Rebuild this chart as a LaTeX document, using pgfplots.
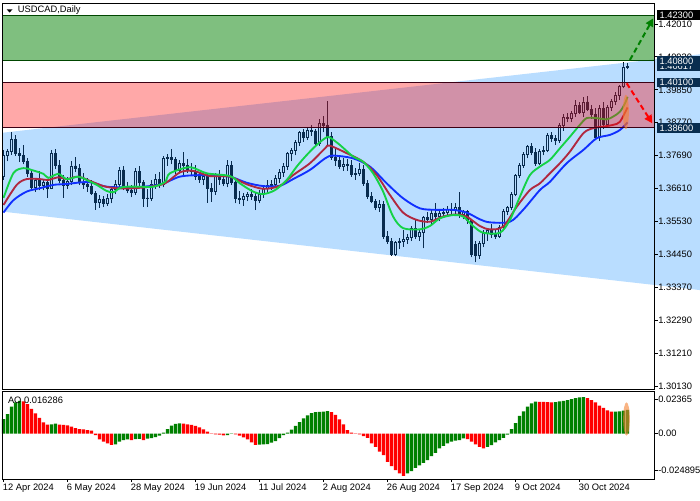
\documentclass[border=0pt]{standalone}
\usepackage{pgfplots}
\pgfplotsset{compat=1.18}
\usepackage{pgfplotstable}
\usepackage{fontspec}
\setmainfont{Liberation Sans}
\usetikzlibrary{arrows.meta}
\definecolor{chan}{RGB}{30,144,255}
\definecolor{zred}{RGB}{255,0,0}
\definecolor{zgreen}{RGB}{0,128,0}
\definecolor{zgline}{RGB}{0,70,0}
\definecolor{zrline}{RGB}{60,0,20}
\definecolor{maG}{RGB}{20,210,70}
\definecolor{maR}{RGB}{176,40,64}
\definecolor{maB}{RGB}{16,48,255}
\definecolor{aoG}{RGB}{0,128,0}
\definecolor{aoR}{RGB}{255,0,0}
\definecolor{navy}{RGB}{9,45,79}
\definecolor{ellip}{RGB}{245,130,50}
\newcommand{\lab}{\fontsize{7}{8}\selectfont}
\pgfplotstableread{
i o h l c
0 1.3700 1.3786 1.3690 1.3768
1 1.3768 1.3792 1.3750 1.3782
2 1.3782 1.3846 1.3772 1.3822
3 1.3822 1.3838 1.3768 1.3775
4 1.3775 1.3795 1.3748 1.3768
5 1.3768 1.3805 1.3740 1.3750
6 1.3750 1.3762 1.3700 1.3712
7 1.3712 1.3722 1.3658 1.3665
8 1.3665 1.3696 1.3650 1.3686
9 1.3686 1.3720 1.3655 1.3672
10 1.3672 1.3692 1.3655 1.3680
11 1.3680 1.3688 1.3630 1.3662
12 1.3662 1.3787 1.3658 1.3776
13 1.3776 1.3790 1.3725 1.3738
14 1.3738 1.3755 1.3680 1.3688
15 1.3688 1.3705 1.3630 1.3672
16 1.3672 1.3698 1.3660 1.3685
17 1.3685 1.3750 1.3672 1.3735
18 1.3735 1.3765 1.3715 1.3728
19 1.3728 1.3740 1.3672 1.3680
20 1.3680 1.3712 1.3660 1.3675
21 1.3675 1.3695 1.3650 1.3668
22 1.3668 1.3688 1.3640 1.3645
23 1.3645 1.3652 1.3592 1.3615
24 1.3615 1.3640 1.3598 1.3625
25 1.3625 1.3638 1.3600 1.3612
26 1.3612 1.3642 1.3605 1.3630
27 1.3630 1.3668 1.3612 1.3658
28 1.3658 1.3690 1.3642 1.3676
29 1.3676 1.3733 1.3665 1.3722
30 1.3722 1.3735 1.3655 1.3668
31 1.3668 1.3682 1.3645 1.3655
32 1.3655 1.3672 1.3632 1.3648
33 1.3648 1.3730 1.3640 1.3718
34 1.3718 1.3735 1.3662 1.3680
35 1.3680 1.3690 1.3602 1.3630
36 1.3630 1.3658 1.3600 1.3628
37 1.3628 1.3690 1.3620 1.3676
38 1.3676 1.3708 1.3660 1.3692
39 1.3692 1.3715 1.3662 1.3675
40 1.3675 1.3768 1.3665 1.3760
41 1.3760 1.3775 1.3735 1.3762
42 1.3762 1.3790 1.3740 1.3756
43 1.3756 1.3765 1.3708 1.3722
44 1.3722 1.3755 1.3712 1.3744
45 1.3744 1.3782 1.3705 1.3738
46 1.3738 1.3758 1.3712 1.3722
47 1.3722 1.3745 1.3702 1.3716
48 1.3716 1.3738 1.3690 1.3700
49 1.3700 1.3715 1.3680 1.3690
50 1.3690 1.3712 1.3672 1.3702
51 1.3702 1.3712 1.3615 1.3660
52 1.3660 1.3680 1.3618 1.3650
53 1.3650 1.3712 1.3640 1.3705
54 1.3705 1.3722 1.3672 1.3690
55 1.3690 1.3702 1.3668 1.3678
56 1.3678 1.3755 1.3665 1.3738
57 1.3738 1.3752 1.3672 1.3680
58 1.3680 1.3688 1.3612 1.3628
59 1.3628 1.3652 1.3610 1.3625
60 1.3625 1.3645 1.3605 1.3635
61 1.3635 1.3650 1.3620 1.3642
62 1.3642 1.3660 1.3625 1.3635
63 1.3635 1.3648 1.3590 1.3622
64 1.3622 1.3655 1.3612 1.3640
65 1.3640 1.3668 1.3630 1.3660
66 1.3660 1.3688 1.3645 1.3672
67 1.3672 1.3690 1.3655 1.3676
68 1.3676 1.3705 1.3662 1.3695
69 1.3695 1.3725 1.3680 1.3715
70 1.3715 1.3745 1.3700 1.3735
71 1.3735 1.3782 1.3722 1.3775
72 1.3775 1.3795 1.3750 1.3785
73 1.3785 1.3820 1.3770 1.3812
74 1.3812 1.3850 1.3800 1.3845
75 1.3845 1.3858 1.3815 1.3830
76 1.3830 1.3862 1.3820 1.3852
77 1.3852 1.3870 1.3835 1.3850
78 1.3850 1.3858 1.3798 1.3808
79 1.3808 1.3890 1.3800 1.3875
80 1.3875 1.3898 1.3845 1.3868
81 1.3868 1.3948 1.3800 1.3832
82 1.3832 1.3845 1.3755 1.3762
83 1.3762 1.3792 1.3735 1.3752
84 1.3752 1.3770 1.3725 1.3735
85 1.3735 1.3760 1.3720 1.3740
86 1.3740 1.3758 1.3720 1.3738
87 1.3738 1.3755 1.3700 1.3708
88 1.3708 1.3728 1.3690 1.3712
89 1.3712 1.3745 1.3702 1.3725
90 1.3725 1.3738 1.3670 1.3678
91 1.3678 1.3688 1.3628 1.3636
92 1.3636 1.3650 1.3612 1.3620
93 1.3620 1.3628 1.3590 1.3598
94 1.3598 1.3625 1.3585 1.3610
95 1.3610 1.3620 1.3495 1.3505
96 1.3505 1.3520 1.3480 1.3488
97 1.3488 1.3498 1.3440 1.3445
98 1.3445 1.3490 1.3438 1.3483
99 1.3483 1.3500 1.3462 1.3488
100 1.3488 1.3525 1.3470 1.3495
101 1.3495 1.3512 1.3480 1.3500
102 1.3500 1.3538 1.3488 1.3530
103 1.3530 1.3560 1.3495 1.3505
104 1.3505 1.3525 1.3490 1.3518
105 1.3518 1.3572 1.3465 1.3565
106 1.3565 1.3585 1.3548 1.3560
107 1.3560 1.3590 1.3545 1.3580
108 1.3580 1.3612 1.3555 1.3570
109 1.3570 1.3595 1.3555 1.3580
110 1.3580 1.3598 1.3565 1.3582
111 1.3582 1.3605 1.3570 1.3592
112 1.3592 1.3612 1.3575 1.3588
113 1.3588 1.3612 1.3572 1.3598
114 1.3598 1.3650 1.3565 1.3575
115 1.3575 1.3592 1.3560 1.3585
116 1.3585 1.3590 1.3545 1.3555
117 1.3555 1.3562 1.3435 1.3445
118 1.3478 1.3490 1.3419 1.3440
119 1.3440 1.3490 1.3430 1.3482
120 1.3482 1.3525 1.3468 1.3515
121 1.3515 1.3530 1.3490 1.3522
122 1.3522 1.3545 1.3500 1.3510
123 1.3510 1.3528 1.3495 1.3505
124 1.3505 1.3540 1.3500 1.3532
125 1.3532 1.3595 1.3525 1.3585
126 1.3585 1.3605 1.3575 1.3598
127 1.3598 1.3650 1.3590 1.3640
128 1.3640 1.3710 1.3635 1.3705
129 1.3705 1.3745 1.3695 1.3738
130 1.3738 1.3780 1.3730 1.3772
131 1.3772 1.3805 1.3760 1.3798
132 1.3798 1.3812 1.3770 1.3780
133 1.3780 1.3795 1.3735 1.3745
134 1.3745 1.3790 1.3738 1.3782
135 1.3782 1.3800 1.3770 1.3785
136 1.3785 1.3842 1.3780 1.3835
137 1.3835 1.3848 1.3815 1.3825
138 1.3825 1.3838 1.3805 1.3818
139 1.3818 1.3875 1.3812 1.3868
140 1.3868 1.3905 1.3850 1.3895
141 1.3895 1.3908 1.3878 1.3892
142 1.3892 1.3915 1.3880 1.3908
143 1.3908 1.3950 1.3895 1.3935
144 1.3935 1.3945 1.3905 1.3912
145 1.3912 1.3960 1.3895 1.3945
146 1.3945 1.3965 1.3915 1.3922
147 1.3922 1.3935 1.3890 1.3905
148 1.3905 1.3925 1.3822 1.3830
149 1.3830 1.3935 1.3818 1.3925
150 1.3925 1.3945 1.3858 1.3870
151 1.3870 1.3935 1.3862 1.3928
152 1.3928 1.3955 1.3915 1.3948
153 1.3948 1.3978 1.3935 1.3968
154 1.3968 1.4002 1.3950 1.3995
155 1.3995 1.4075 1.3990 1.4060
156 1.4060 1.4072 1.4052 1.4062
}\candles
\begin{document}
\begin{tikzpicture}
\path[use as bounding box] (0,0) rectangle (525pt,375pt);
\begin{axis}[
  at={(1.875pt,83.25pt)}, anchor=south west,
  scale only axis, width=489pt, height=289.5pt,
  xmin=-0.25, xmax=162.75, ymin=1.30031, ymax=1.42699,
  clip=false, axis on top,
  scaled y ticks=false, scaled x ticks=false,
  xtick=\empty,
  ytick={1.3013,1.3121,1.3229,1.3337,1.3445,1.3553,1.3661,1.3769,1.3877,1.3985,1.4093,1.4201},
  yticklabels={1.30130,1.31210,1.32290,1.33370,1.34450,1.35530,1.36610,1.37690,1.38770,1.39850,1.40930,1.42010},
  ytick pos=right, yticklabel pos=right,
  tick align=outside, major tick length=2.25pt,
  tick style={black, line width=0.6pt},
  axis line style={line width=0.7pt},
  yticklabel style={font=\lab, anchor=west, inner sep=0pt, xshift=0.4pt},
]
% candles (drawn black, tinted by overlays)
\pgfplotsforeachungrouped \k in {0,...,156}{%
  \pgfplotstablegetelem{\k}{i}\of\candles \let\vI\pgfplotsretval
  \pgfplotstablegetelem{\k}{o}\of\candles \let\vO\pgfplotsretval
  \pgfplotstablegetelem{\k}{h}\of\candles \let\vH\pgfplotsretval
  \pgfplotstablegetelem{\k}{l}\of\candles \let\vL\pgfplotsretval
  \pgfplotstablegetelem{\k}{c}\of\candles \let\vC\pgfplotsretval
  \pgfmathsetmacro\xa{\vI-0.3}%
  \pgfmathsetmacro\xb{\vI+0.3}%
  \pgfmathtruncatemacro\isbull{(\vC>=\vO)}%
  \ifnum\isbull=1 \def\cf{white}\else\def\cf{black}\fi
  \edef\doit{%
    \noexpand\addplot[black, line width=0.75pt, forget plot] coordinates {(\vI,\vL) (\vI,\vH)};
    \noexpand\addplot[draw=black, fill=\cf, line width=0.65pt, forget plot] coordinates {(\xa,\vO) (\xb,\vO) (\xb,\vC) (\xa,\vC) (\xa,\vO)};
  }\doit
}
% channel
\addplot[fill=chan, fill opacity=0.31, draw=none, forget plot] coordinates {(-0.25,1.38441) (174.125,1.41016) (174.125,1.33277) (-0.25,1.35852)};
% moving averages
\addplot[smooth, maB, line width=1.4pt] coordinates {(0,1.3582) (2.5,1.3623) (5.8,1.3651) (9.1,1.3662) (12.5,1.3673) (15.8,1.3676) (20,1.3682) (22.5,1.3680) (25.8,1.3667) (32.5,1.3665) (39.1,1.3674) (44.1,1.3700) (49.1,1.3705) (52,1.3703) (56.6,1.3700) (60.8,1.3680) (65,1.3669) (69.1,1.3670) (72.4,1.3692) (76.6,1.3722) (80.4,1.3760) (82.4,1.3769) (87.4,1.3760) (91.6,1.3733) (95.8,1.3678) (99.9,1.3629) (104.1,1.3596) (108.3,1.3591) (112.4,1.3591) (115.8,1.3582) (119.1,1.3560) (121.6,1.3550) (126.6,1.3552) (129.9,1.3591) (134.1,1.3656) (136.6,1.3683) (140.8,1.3744) (145,1.3788) (148.3,1.3826) (151.6,1.3837) (154.1,1.3853) (156,1.3878)};
\addplot[smooth, maR, line width=1.4pt] coordinates {(0,1.3607) (3.3,1.3673) (5.8,1.3692) (9.1,1.3692) (11.2,1.3689) (13.7,1.3698) (15.8,1.3692) (18.7,1.3700) (21.6,1.3686) (25,1.3669) (28.3,1.3662) (32.5,1.3662) (36.6,1.3667) (40.4,1.3678) (44.1,1.3714) (47.4,1.3719) (51.6,1.3702) (56.6,1.3700) (60.8,1.3675) (65,1.3660) (69.1,1.3670) (72.4,1.3705) (76.6,1.3744) (80.4,1.3793) (81.5,1.3802) (85.8,1.3777) (89.9,1.3749) (93.3,1.3705) (96.6,1.3640) (99.9,1.3582) (103.3,1.3558) (106.6,1.3552) (109.9,1.3569) (113.3,1.3576) (115.8,1.3569) (119.1,1.3538) (121.6,1.3527) (124.9,1.3536) (128.3,1.3601) (131.6,1.3656) (134.1,1.3678) (136.6,1.3711) (139.1,1.3744) (141.6,1.3782) (145,1.3843) (147.4,1.3859) (149.9,1.3864) (152.4,1.3870) (154.1,1.3880) (156,1.3927)};
\addplot[smooth, maG, line width=1.4pt] coordinates {(0,1.3630) (2.5,1.3712) (5,1.3728) (7,1.3722) (10,1.3709) (11.2,1.3696) (13.7,1.3709) (15.8,1.3692) (18.7,1.3700) (20.8,1.3689) (23.3,1.3673) (25.8,1.3653) (27.5,1.3649) (29.1,1.3663) (30.8,1.3667) (34,1.3667) (37.5,1.3667) (40.4,1.3683) (41.6,1.3711) (46.6,1.3731) (50.8,1.3711) (56.6,1.3702) (59.1,1.3678) (62.4,1.3651) (65,1.3643) (67.9,1.3656) (70.8,1.3689) (73.3,1.3733) (75.8,1.3771) (78.3,1.3804) (80.4,1.3826) (81.5,1.3829) (84.1,1.3804) (87.4,1.3766) (89.9,1.3749) (92.4,1.3711) (94.9,1.3651) (97.4,1.3569) (99.9,1.3531) (104.1,1.3527) (106.6,1.3538) (109.1,1.3563) (112.4,1.3574) (114.9,1.3569) (117.4,1.3538) (119.9,1.3516) (124.1,1.3516) (126.6,1.3558) (129.1,1.3634) (131.6,1.3705) (134.1,1.3733) (136.6,1.3755) (139.1,1.3793) (141.6,1.3831) (144.1,1.3870) (145.8,1.3892) (148.3,1.3892) (150.8,1.3888) (152.4,1.3897) (154.1,1.3913) (155.4,1.3941) (156,1.3962)};
% zones
\addplot[fill=zred, fill opacity=0.34, draw=none, forget plot] coordinates {(-0.25,1.386) (162.75,1.386) (162.75,1.401) (-0.25,1.401)};
\addplot[fill=zgreen, fill opacity=0.5, draw=none, forget plot] coordinates {(-0.25,1.408) (162.75,1.408) (162.75,1.423) (-0.25,1.423)};
\addplot[zrline, line width=0.75pt] coordinates {(-0.25,1.401) (162.75,1.401)};
\addplot[zrline, line width=0.75pt] coordinates {(-0.25,1.386) (162.75,1.386)};
\addplot[zgline, line width=0.75pt] coordinates {(-0.25,1.408) (162.75,1.408)};
\addplot[zgline, line width=0.75pt] coordinates {(-0.25,1.423) (162.75,1.423)};
% arrows
\addplot[zgreen, line width=1.5pt, dash pattern=on 4pt off 2.5pt, -{Triangle[length=6pt,width=6pt]}] coordinates {(156.6,1.40829) (162.45,1.42197)};
\addplot[zred, line width=1.5pt, dash pattern=on 4pt off 2.5pt, -{Triangle[length=6pt,width=6pt]}] coordinates {(155.8,1.40064) (162.2,1.38751)};
% highlight ellipse
\fill[ellip, fill opacity=0.6] (axis cs:155.6,1.39122) ellipse [x radius=2.2pt, y radius=13pt];
\coordinate (pA) at (axis cs:162.75,1.42300);
\coordinate (pB) at (axis cs:162.75,1.40800);
\coordinate (pC) at (axis cs:162.75,1.40617);
\coordinate (pD) at (axis cs:162.75,1.40100);
\coordinate (pE) at (axis cs:162.75,1.38600);
\end{axis}

\begin{axis}[
  at={(1.875pt,15.75pt)}, anchor=south west,
  scale only axis, width=489pt, height=65.625pt,
  xmin=-0.25, xmax=162.75, ymin=-0.03113, ymax=0.0290,
  axis on top, clip=false,
  scaled y ticks=false, scaled x ticks=false,
  xtick={0,16,32,48,64,80,96,112,128,144},
  xticklabels={12 Apr 2024,6 May 2024,28 May 2024,19 Jun 2024,11 Jul 2024,2 Aug 2024,26 Aug 2024,17 Sep 2024,9 Oct 2024,30 Oct 2024},
  xtick pos=bottom,
  xticklabel style={font=\lab, anchor=north west, inner sep=0pt, xshift=-0.6pt, yshift=-1pt},
  ytick={-0.024895,0,0.02365},
  yticklabels={-0.024895,0.00,0.02365},
  ytick pos=right, yticklabel pos=right,
  tick align=outside, major tick length=2.25pt,
  tick style={black, line width=0.6pt},
  axis line style={line width=0.7pt},
  yticklabel style={font=\lab, anchor=west, inner sep=0pt, xshift=0.4pt},
]
\addplot[ybar, bar width=2.4pt, bar shift=0pt, fill=aoG, draw=none] coordinates {(0,0.0101) (1,0.0135) (2,0.0186) (3,0.0216) (4,0.0225) (12,0.0064) (13,0.0069) (28,-0.0074) (29,-0.0055) (30,-0.0044) (31,-0.0039) (33,-0.0037) (34,-0.0036) (36,-0.0034) (37,-0.0030) (38,-0.0023) (39,-0.0014) (40,0.0007) (41,0.0032) (42,0.0055) (43,0.0067) (44,0.0071) (56,-0.0009) (57,-0.0002) (64,-0.0075) (65,-0.0073) (66,-0.0071) (67,-0.0062) (68,-0.0051) (69,-0.0030) (70,-0.0009) (71,0.0007) (72,0.0028) (73,0.0053) (74,0.0080) (75,0.0106) (76,0.0126) (77,0.0142) (78,0.0149) (79,0.0150) (80,0.0152) (81,0.0156) (101,-0.0273) (102,-0.0257) (103,-0.0234) (104,-0.0218) (105,-0.0200) (106,-0.0181) (107,-0.0154) (108,-0.0131) (109,-0.0101) (110,-0.0083) (111,-0.0067) (112,-0.0055) (113,-0.0048) (114,-0.0044) (115,-0.0032) (121,-0.0090) (122,-0.0078) (123,-0.0060) (124,-0.0044) (125,-0.0028) (126,-0.0007) (127,0.0032) (128,0.0073) (129,0.0122) (130,0.0154) (131,0.0186) (132,0.0209) (133,0.0220) (138,0.0217) (139,0.0222) (140,0.0226) (141,0.0230) (142,0.0237) (143,0.0245) (144,0.0250) (145,0.0251) (153,0.0152) (154,0.0153) (155,0.0158) (156,0.0163)};
\addplot[ybar, bar width=2.4pt, bar shift=0pt, fill=aoR, draw=none] coordinates {(5,0.0222) (6,0.0204) (7,0.0170) (8,0.0140) (9,0.0108) (10,0.0078) (11,0.0062) (14,0.0062) (15,0.0060) (16,0.0057) (17,0.0048) (18,0.0039) (19,0.0032) (20,0.0030) (21,0.0025) (22,0.0021) (23,-0.0009) (24,-0.0039) (25,-0.0055) (26,-0.0067) (27,-0.0076) (32,-0.0044) (35,-0.0044) (45,0.0070) (46,0.0064) (47,0.0060) (48,0.0053) (49,0.0044) (50,0.0030) (51,0.0014) (52,-0.0001) (53,-0.0005) (54,-0.0007) (55,-0.0011) (58,-0.0005) (59,-0.0014) (60,-0.0025) (61,-0.0039) (62,-0.0060) (63,-0.0076) (82,0.0149) (83,0.0129) (84,0.0099) (85,0.0064) (86,0.0025) (87,0.0007) (88,-0.0002) (89,-0.0005) (90,-0.0016) (91,-0.0028) (92,-0.0067) (93,-0.0090) (94,-0.0124) (95,-0.0147) (96,-0.0193) (97,-0.0223) (98,-0.0250) (99,-0.0273) (100,-0.0289) (116,-0.0037) (117,-0.0055) (118,-0.0073) (119,-0.0090) (120,-0.0101) (134,0.0219) (135,0.0218) (136,0.0217) (137,0.0215) (146,0.0245) (147,0.0230) (148,0.0216) (149,0.0193) (150,0.0178) (151,0.0160) (152,0.0151)};
\fill[ellip, fill opacity=0.6] (axis cs:155.75,0.0101) ellipse [x radius=2.5pt, y radius=12.4pt];
\end{axis}

% price boxes
\tikzset{pbox/.style={anchor=west, font=\lab, text=white, inner xsep=2pt, inner ysep=0pt, minimum height=7pt, text width=28pt, align=left}}
\node[pbox, fill=black] at ([xshift=1.6pt]pA) {1.42300};
\node[pbox, fill=navy] at ([xshift=1.6pt]pC) {1.40617};
\node[pbox, fill=navy] at ([xshift=1.6pt]pB) {1.40800};
\node[pbox, fill=navy] at ([xshift=1.6pt]pD) {1.40100};
\node[pbox, fill=navy] at ([xshift=1.6pt]pE) {1.38600};
% titles
\fill[black] (5pt,368pt) -- (9.4pt,368pt) -- (7.2pt,365.6pt) -- cycle;
\node[anchor=west, inner sep=0pt, font=\lab] at (13.2pt,367.3pt) {USDCAD,Daily};
\node[anchor=west, inner sep=0pt, font=\lab] at (5.8pt,74.5pt) {AO 0.016286};
\end{tikzpicture}
\end{document}
